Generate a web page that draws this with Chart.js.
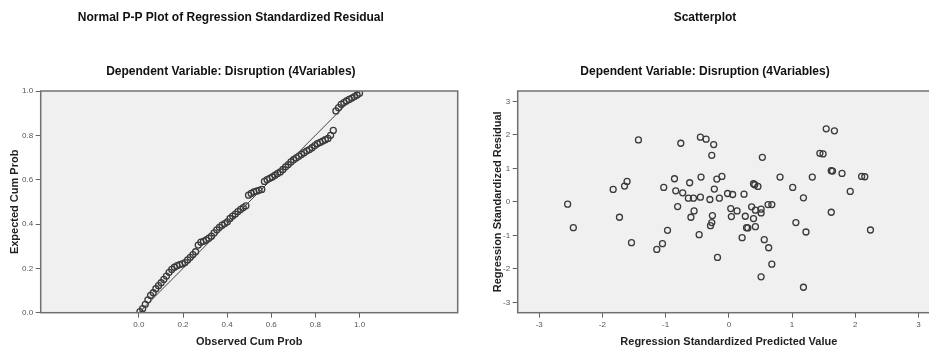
<!DOCTYPE html>
<html>
<head>
<meta charset="utf-8">
<script src="https://cdn.jsdelivr.net/npm/chart.js@4"></script>
<style>
  body { margin: 0; width: 929px; height: 351px; overflow: hidden; background: #fff; position: relative; }
  canvas { position: absolute; top: 0; }
  #chartPP { left: 0; }
  #chartScatter { left: 470px; }
</style>
</head>
<body>
<canvas id="chartPP" width="463" height="351"></canvas>
<canvas id="chartScatter" width="480" height="351"></canvas>
<script>
// P-P plot: observed vs expected cumulative probability
const ppObserved = [
  0.005, 0.017, 0.029, 0.041, 0.053, 0.065, 0.077, 0.089, 0.101, 0.113,
  0.125, 0.137, 0.149, 0.161, 0.173, 0.185, 0.197, 0.209, 0.221, 0.233,
  0.245, 0.257, 0.269, 0.281, 0.293, 0.305, 0.317, 0.329, 0.341, 0.353,
  0.365, 0.377, 0.389, 0.401, 0.413, 0.425, 0.437, 0.449, 0.461, 0.473,
  0.485, 0.497, 0.509, 0.521, 0.533, 0.545, 0.557, 0.569, 0.581, 0.593,
  0.605, 0.617, 0.629, 0.641, 0.653, 0.665, 0.677, 0.689, 0.701, 0.713,
  0.725, 0.737, 0.749, 0.761, 0.773, 0.785, 0.797, 0.809, 0.821, 0.833,
  0.845, 0.857, 0.869, 0.881, 0.893, 0.905, 0.917, 0.929, 0.941, 0.953,
  0.965, 0.977, 0.989, 1.000
];
const ppExpected = [
  0.005, 0.018, 0.038, 0.058, 0.078, 0.090, 0.108, 0.122, 0.135, 0.150,
  0.165, 0.182, 0.195, 0.205, 0.212, 0.217, 0.220, 0.226, 0.238, 0.250,
  0.262, 0.275, 0.305, 0.318, 0.322, 0.328, 0.336, 0.345, 0.360, 0.374,
  0.385, 0.395, 0.402, 0.410, 0.425, 0.436, 0.445, 0.456, 0.466, 0.474,
  0.482, 0.530, 0.538, 0.545, 0.548, 0.552, 0.556, 0.592, 0.600, 0.606,
  0.612, 0.620, 0.628, 0.635, 0.646, 0.658, 0.668, 0.680, 0.690, 0.698,
  0.706, 0.714, 0.722, 0.730, 0.736, 0.744, 0.754, 0.762, 0.768, 0.774,
  0.780, 0.786, 0.800, 0.822, 0.910, 0.925, 0.940, 0.948, 0.955, 0.962,
  0.968, 0.975, 0.982, 0.990
];
const ppLineX = [0, 1];
const ppLineY = [0, 1];
const ppTicks = [0, 0.2, 0.4, 0.6, 0.8, 1.0];

// Scatterplot: standardized predicted value vs standardized residual
const predValues = [
  -2.55, -2.46, -1.43, -1.83, -1.65, -1.61, -1.73, -1.54, -1.14, -1.05,
  -1.03, -0.97, -0.76, -0.86, -0.84, -0.73, -0.81, -0.62, -0.64, -0.56,
  -0.55, -0.60, -0.45, -0.44, -0.47, -0.45, -0.36, -0.24, -0.27, -0.19,
  -0.11, -0.23, -0.30, -0.15, -0.02, 0.06, 0.24, 0.39, 0.41, 0.46,
  0.53, 0.81, 1.01, 1.18, 1.32, 1.44, 1.49, 1.54, 1.67, 1.62,
  1.64, 1.79, 1.92, 2.10, 2.15, 1.62, 2.24, -0.26, -0.27, -0.29,
  -0.18, 0.03, 0.04, 0.13, 0.26, 0.36, 0.42, 0.39, 0.51, 0.51,
  0.28, 0.30, 0.42, 0.21, 0.56, 0.63, 0.68, 0.51, 0.62, 0.68,
  1.06, 1.22, 1.18
];
const residValues = [
  -0.07, -0.77, 1.85, 0.37, 0.47, 0.61, -0.46, -1.22, -1.42, -1.25,
  0.43, -0.85, 1.75, 0.69, 0.33, 0.27, -0.14, 0.57, 0.11, 0.11,
  -0.27, -0.46, 1.93, 0.74, -0.98, 0.14, 1.87, 1.71, 1.39, 0.68,
  0.76, 0.38, 0.07, 0.11, 0.25, 0.22, 0.23, 0.54, 0.51, 0.46,
  1.33, 0.74, 0.43, 0.12, 0.74, 1.45, 1.43, 2.18, 2.12, 0.93,
  0.92, 0.85, 0.31, 0.76, 0.75, -0.31, -0.84, -0.41, -0.62, -0.71,
  -1.66, -0.20, -0.44, -0.27, -0.43, -0.15, -0.25, -0.50, -0.22, -0.33,
  -0.77, -0.78, -0.74, -1.07, -1.13, -1.37, -1.86, -2.24, -0.08, -0.08,
  -0.62, -0.90, -2.55
];
const scatterTicks = [-3, -2, -1, 0, 1, 2, 3];

const FONT = "'Liberation Sans', Arial, sans-serif";

// grey plot background + frame, like SPSS output
const framePlugin = {
    id: "frame",
    beforeDraw(chart) {
        const { ctx, chartArea: a } = chart;
        ctx.save();
        ctx.fillStyle = "#f0f0f0";
        ctx.fillRect(a.left, a.top, a.right - a.left, a.bottom - a.top);
        ctx.restore();
    },
    afterDraw(chart) {
        const { ctx, chartArea: a } = chart;
        ctx.save();
        ctx.strokeStyle = "#707070";
        ctx.lineWidth = 1.5;
        ctx.strokeRect(a.left, a.top, a.right - a.left, a.bottom - a.top);
        ctx.restore();
    },
};

function axis(opts) {
    return {
        type: "linear",
        min: opts.min,
        max: opts.max,
        afterBuildTicks: (s) => { s.ticks = opts.ticks.map((v) => ({ value: v })); },
        afterFit: opts.fit,
        border: { display: false },
        grid: { drawOnChartArea: false, drawTicks: true, tickLength: 5, color: "#666" },
        ticks: {
            font: { family: FONT, size: 8 },
            color: "#555",
            padding: 2.5,
            callback: opts.fmt,
        },
        title: {
            display: true,
            text: opts.title,
            font: { family: FONT, size: 11, weight: "bold" },
            color: "#222",
            padding: opts.titlePad,
        },
    };
}

function titles(main) {
    return {
        legend: { display: false },
        tooltip: { enabled: false },
        title: {
            display: true,
            text: main,
            font: { family: FONT, size: 12, weight: "bold" },
            color: "#111",
            padding: { top: 10.3, bottom: 40.1 },
        },
        subtitle: {
            display: true,
            text: "Dependent Variable: Disruption (4Variables)",
            font: { family: FONT, size: 12, weight: "bold" },
            color: "#111",
            padding: { top: 0, bottom: 11.8 },
        },
    };
}

const circle = {
    pointStyle: "circle",
    pointRadius: 3,
    pointBorderWidth: 1.3,
    pointBorderColor: "#3a3a3a",
    pointBackgroundColor: "rgba(0,0,0,0)",
    showLine: false,
};

// Normal P-P Plot
new Chart(document.getElementById("chartPP"), {
    type: "scatter",
    data: {
        datasets: [
            {
                type: "line",
                data: ppLineX.map((x, i) => ({ x: x, y: ppLineY[i] })),
                borderColor: "#444",
                borderWidth: 1,
                pointRadius: 0,
                fill: false,
            },
            Object.assign({
                data: ppObserved.map((x, i) => ({ x: x, y: ppExpected[i] })),
            }, circle),
        ],
    },
    options: {
        responsive: false,
        animation: false,
        layout: { padding: { left: 0, right: 1.3, top: 0, bottom: 0 } },
        plugins: titles("Normal P-P Plot of Regression Standardized Residual"),
        scales: {
            x: axis({
                min: -0.445, max: 1.445, ticks: ppTicks,
                fit: (s) => { s.height = 38.3; },
                fmt: (v) => v.toFixed(1),
                title: "Observed Cum Prob",
                titlePad: { top: 0, bottom: 2.7 },
            }),
            y: axis({
                min: 0, max: 1, ticks: ppTicks,
                fit: (s) => { s.width = 40.7; },
                fmt: (v) => v.toFixed(1),
                title: "Expected Cum Prob",
                titlePad: { top: 8.4, bottom: 0 },
            }),
        },
    },
    plugins: [framePlugin],
});

// Scatterplot
new Chart(document.getElementById("chartScatter"), {
    type: "scatter",
    data: {
        datasets: [
            Object.assign({
                data: predValues.map((x, i) => ({ x: x, y: residValues[i] })),
            }, circle),
        ],
    },
    options: {
        responsive: false,
        animation: false,
        layout: { padding: { left: 0, right: 10, top: 0, bottom: 0 } },
        plugins: titles("Scatterplot"),
        scales: {
            x: axis({
                min: -3.34, max: 3.34, ticks: scatterTicks,
                fit: (s) => { s.height = 38.3; },
                fmt: (v) => String(v),
                title: "Regression Standardized Predicted Value",
                titlePad: { top: 0, bottom: 2.7 },
            }),
            y: axis({
                min: -3.31, max: 3.31, ticks: scatterTicks,
                fit: (s) => { s.width = 47.7; },
                fmt: (v) => String(v),
                title: "Regression Standardized Residual",
                titlePad: { top: 21.7, bottom: 0 },
            }),
        },
    },
    plugins: [framePlugin],
});
</script>
</body>
</html>
